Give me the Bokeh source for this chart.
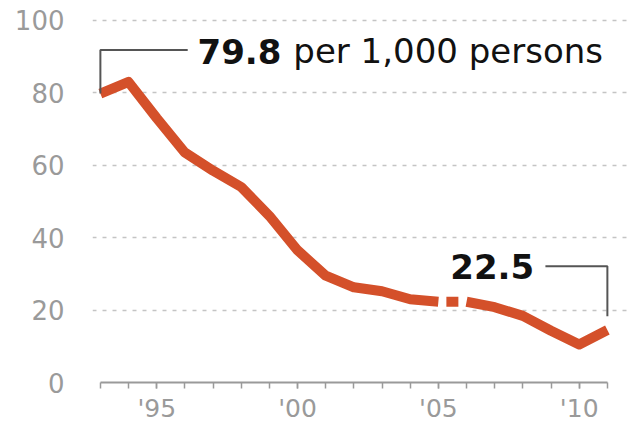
from bokeh.plotting import figure
from bokeh.models import FixedTicker, Range1d
from bokeh.embed import file_html
from bokeh.resources import INLINE
from bokeh.core.properties import value

# Data (per 1,000 persons)
years_a = [1993, 1994, 1995, 1996, 1997, 1998, 1999, 2000, 2001, 2002, 2003, 2004, 2005]
rate_a = [79.8, 83.0, 73.0, 63.5, 58.5, 54.0, 46.0, 36.5, 29.5, 26.3, 25.2, 23.0, 22.3]
years_b = [2006, 2007, 2008, 2009, 2010, 2011]
rate_b = [22.3, 20.8, 18.4, 14.3, 10.5, 14.5]
gap_years = [years_a[-1], years_b[0]]
gap_rate = [rate_a[-1], rate_b[0]]

y_ticks = [0, 20, 40, 60, 80, 100]
grid_ticks = [20, 40, 60, 80, 100]
x_major = [1995, 2000, 2005, 2010]
x_minor = list(range(1993, 2012))
x_labels = {1995: "'95", 2000: "'00", 2005: "'05", 2010: "'10"}

first_label_bold = "79.8"
first_label_rest = "per 1,000 persons"
last_label = "22.5"

LINE = "#d4502a"
GRAY = "#9a9a9a"
FONT = value("DejaVu Sans")

p = figure(width=628, height=425,
           x_range=Range1d(1992.72, 2011.75), y_range=Range1d(0, 105.5),
           output_backend="svg", toolbar_location=None,
           min_border_left=92, min_border_right=0, min_border_top=0, min_border_bottom=41)
p.outline_line_color = None
p.background_fill_color = "white"
p.border_fill_color = "white"

# grid
p.xgrid.visible = False
p.ygrid.ticker = FixedTicker(ticks=grid_ticks)
p.ygrid.grid_line_color = "#c4c4c4"
p.ygrid.grid_line_dash = "4 6"
p.ygrid.grid_line_width = 1.5

# y axis
p.yaxis.ticker = FixedTicker(ticks=y_ticks)
p.yaxis.axis_line_color = None
p.yaxis.major_tick_line_color = None
p.yaxis.minor_tick_line_color = None
p.yaxis.major_label_standoff = 22
p.yaxis.major_label_text_font = "DejaVu Sans"
p.yaxis.major_label_text_font_size = "26px"
p.yaxis.major_label_text_color = GRAY

# x axis
p.xaxis.bounds = (1993, 2011)
p.xaxis.ticker = FixedTicker(ticks=x_major, minor_ticks=x_minor)
p.xaxis.major_label_overrides = x_labels
p.xaxis.axis_line_color = GRAY
p.xaxis.axis_line_width = 2
p.xaxis.major_tick_line_color = GRAY
p.xaxis.minor_tick_line_color = GRAY
p.xaxis.major_tick_line_width = 1.5
p.xaxis.minor_tick_line_width = 1.5
p.xaxis.major_tick_in = 0
p.xaxis.minor_tick_in = 0
p.xaxis.major_tick_out = 6
p.xaxis.minor_tick_out = 6
p.xaxis.major_label_standoff = 5
p.xaxis.major_label_text_font = "DejaVu Sans"
p.xaxis.major_label_text_font_size = "25px"
p.xaxis.major_label_text_color = GRAY

# data line
p.line(years_a, rate_a, line_color=LINE, line_width=10, line_join="round", line_cap="butt")
p.line(gap_years, gap_rate, line_color=LINE, line_width=10, line_cap="butt",
       line_dash="12 16", line_dash_offset=20)
p.line(years_b, rate_b, line_color=LINE, line_width=10, line_join="round", line_cap="butt")

# annotation for first value
x0, y0 = years_a[0], rate_a[0]
p.line([x0, x0, x0 + 3.1], [y0, y0 + 12, y0 + 12], line_color="#555555", line_width=2)
p.text(x=[x0 + 3.45], y=[y0 + 11.7], text=[first_label_bold], text_font=FONT,
       text_font_style="bold", text_font_size="34px", text_color="#111111",
       text_baseline="middle", text_align="left")
p.text(x=[x0 + 6.85], y=[y0 + 11.7], text=[first_label_rest], text_font=FONT,
       text_font_size="34px", text_color="#111111",
       text_baseline="middle", text_align="left")

# annotation for last value
x1, y1 = years_b[-1], rate_b[-1]
p.line([x1, x1, x1 - 2.2], [y1 + 3.8, 32.1, 32.1], line_color="#555555", line_width=2)
p.text(x=[x1 - 2.6], y=[32.0], text=[last_label], text_font=FONT,
       text_font_style="bold", text_font_size="34px", text_color="#111111",
       text_baseline="middle", text_align="right")

open("out.html", "w").write(file_html(p, INLINE))
